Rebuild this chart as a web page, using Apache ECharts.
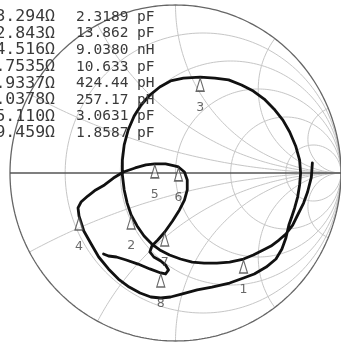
<!DOCTYPE html>
<html>
<head>
<meta charset="utf-8">
<script src="https://cdn.jsdelivr.net/npm/echarts@6/dist/echarts.min.js"></script>
<style>
  html, body { margin: 0; padding: 0; background: #fff; }
  #chart { width: 341px; height: 343px; }
</style>
</head>
<body>
<div id="chart"></div>
<script>
// Measured reflection coefficient (real / imaginary parts) along the sweep
const gammaRe = [
  0.827, 0.821, 0.798, 0.774, 0.738, 0.708, 0.667, 0.625, 0.577, 0.530,
  0.470, 0.411, 0.327, 0.250, 0.173, 0.101, 0.030, -0.036, -0.095, -0.143,
  -0.190, -0.232, -0.268, -0.292, -0.310, -0.321, -0.321, -0.310, -0.286, -0.250,
  -0.208, -0.155, -0.095, -0.030, 0.048, 0.149, 0.238, 0.321, 0.399, 0.470,
  0.536, 0.595, 0.649, 0.690, 0.726, 0.750, 0.756, 0.750, 0.738, 0.720,
  0.702, 0.685, 0.667, 0.643, 0.607, 0.548, 0.476, 0.411, 0.327, 0.220,
  0.131, 0.042, -0.030, -0.089, -0.149, -0.214, -0.280, -0.345, -0.405, -0.464,
  -0.506, -0.554, -0.583, -0.589, -0.571, -0.530, -0.482, -0.429, -0.375, -0.315,
  -0.244, -0.179, -0.125, -0.060, -0.006, 0.018, 0.054, 0.071, 0.071, 0.054,
  0.024, -0.018, -0.065, -0.107, -0.143, -0.155, -0.131, -0.089, -0.060, -0.042,
  -0.060, -0.089, -0.155, -0.226, -0.298, -0.357, -0.405, -0.435
];
const gammaIm = [
  0.060, -0.024, -0.113, -0.179, -0.250, -0.310, -0.363, -0.399, -0.435, -0.458,
  -0.488, -0.512, -0.530, -0.536, -0.536, -0.530, -0.512, -0.488, -0.458, -0.423,
  -0.375, -0.315, -0.250, -0.179, -0.101, -0.012, 0.077, 0.167, 0.256, 0.339,
  0.405, 0.464, 0.512, 0.548, 0.565, 0.571, 0.565, 0.554, 0.524, 0.488,
  0.440, 0.381, 0.315, 0.244, 0.161, 0.077, 0.000, -0.071, -0.143, -0.208,
  -0.262, -0.310, -0.387, -0.452, -0.512, -0.560, -0.601, -0.625, -0.655, -0.679,
  -0.696, -0.720, -0.738, -0.744, -0.738, -0.714, -0.679, -0.631, -0.571, -0.500,
  -0.429, -0.345, -0.256, -0.208, -0.173, -0.137, -0.101, -0.071, -0.030, 0.006,
  0.030, 0.048, 0.054, 0.054, 0.042, 0.036, 0.006, -0.042, -0.101, -0.161,
  -0.220, -0.286, -0.351, -0.399, -0.435, -0.470, -0.500, -0.524, -0.548, -0.577,
  -0.601, -0.595, -0.571, -0.542, -0.518, -0.500, -0.494, -0.482
];

// Marker numbers and the sweep sample each one sits on
const markerIds = ['1', '2', '3', '4', '5', '6', '7', '8'];
const markerSample = [11, 22, 35, 72, 82, 85, 92, 101];

// Marker readout: equivalent resistance and reactance element
const readResistance = ['3.294Ω', '2.843Ω', '4.516Ω', '.7535Ω', '.9337Ω', '.0378Ω', '5.110Ω', '9.459Ω'];
const readElement = ['2.3189 pF', '13.862 pF', '9.0380 nH', '10.633 pF', '424.44 pH', '257.17 pH', '3.0631 pF', '1.8587 pF'];

// Smith chart grid values (normalised resistance / reactance)
const resistanceCircles = [0.2, 0.5, 1, 2, 5];
const reactanceArcs = [0.25, 0.6, 1, 2, 5];

// z = r + jx  ->  reflection coefficient
function toGamma(r, x) {
  const nr = r - 1, dr = r + 1;
  const d = dr * dr + x * x;
  return [(nr * dr + x * x) / d, (x * dr - nr * x) / d];
}

const gridColor = '#c6c6c6';
const gridSeries = [];

// constant-resistance circles
resistanceCircles.forEach(r => {
  const pts = [];
  const cx = r / (1 + r), rad = 1 / (1 + r);
  for (let i = 0; i <= 240; i++) {
    const t = (i / 240) * Math.PI * 2;
    pts.push([cx + rad * Math.cos(t), rad * Math.sin(t)]);
  }
  gridSeries.push(pts);
});

// constant-reactance arcs
reactanceArcs.forEach(x => {
  [x, -x].forEach(xv => {
    const pts = [toGamma(0, xv)];
    for (let i = 0; i <= 300; i++) {
      const r = Math.pow(10, -3 + i * 6 / 300);
      pts.push(toGamma(r, xv));
    }
    gridSeries.push(pts);
  });
});

// outer boundary |Γ| = 1
const boundary = [];
for (let i = 0; i <= 360; i++) {
  const t = (i / 360) * Math.PI * 2;
  boundary.push([Math.cos(t), Math.sin(t)]);
}

const trace = gammaRe.map((v, i) => [v, gammaIm[i]]);
const markers = markerSample.map((s, i) => ({ value: trace[s], name: markerIds[i] }));

const series = [];
gridSeries.forEach(pts => series.push({
  type: 'line', data: pts, showSymbol: false, silent: true, clip: false,
  lineStyle: { color: gridColor, width: 1 }, z: 1
}));
series.push({
  type: 'line', data: boundary, showSymbol: false, silent: true, clip: false,
  lineStyle: { color: '#666', width: 1.3 }, z: 2
});
series.push({
  type: 'line', data: [[-1, 0], [1.02, 0]], showSymbol: false, silent: true, clip: false,
  lineStyle: { color: '#555', width: 1.6 }, z: 2
});
series.push({
  type: 'line', data: trace, showSymbol: false, silent: true, clip: false,
  lineStyle: { color: '#111', width: 2.8, join: 'round', cap: 'round' }, z: 5
});
series.push({
  type: 'scatter', data: markers, silent: true, clip: false,
  symbol: 'triangle', symbolSize: [8, 13], symbolOffset: [0, 7.5],
  itemStyle: { color: 'rgba(255,255,255,0.6)', borderColor: '#444', borderWidth: 1.3 },
  label: {
    show: true, position: 'bottom', distance: 9, formatter: p => p.name,
    color: '#444', fontFamily: 'DejaVu Sans', fontSize: 12.5
  },
  z: 6
});

const chart = echarts.init(document.getElementById('chart'), null, { renderer: 'canvas' });

const texts = [];
readResistance.forEach((t, i) => {
  texts.push({
    type: 'text', x: 55, y: 17 + i * 16.6, z: 10,
    style: {
      text: t, fill: '#3a3a3a', font: '16.5px "DejaVu Sans Mono"',
      textAlign: 'right', textVerticalAlign: 'middle'
    }
  });
});
readElement.forEach((t, i) => {
  texts.push({
    type: 'text', x: 76, y: 17 + i * 16.6, z: 10,
    style: {
      text: t, fill: '#3a3a3a', font: '14.5px "DejaVu Sans Mono"',
      textAlign: 'left', textVerticalAlign: 'middle'
    }
  });
});

chart.setOption({
  animation: false,
  backgroundColor: '#fff',
  grid: { left: 10, top: 5, width: 336, height: 336 },
  xAxis: { type: 'value', min: -1, max: 1, show: false },
  yAxis: { type: 'value', min: -1, max: 1, show: false },
  graphic: texts,
  series: series
});
</script>
</body>
</html>
